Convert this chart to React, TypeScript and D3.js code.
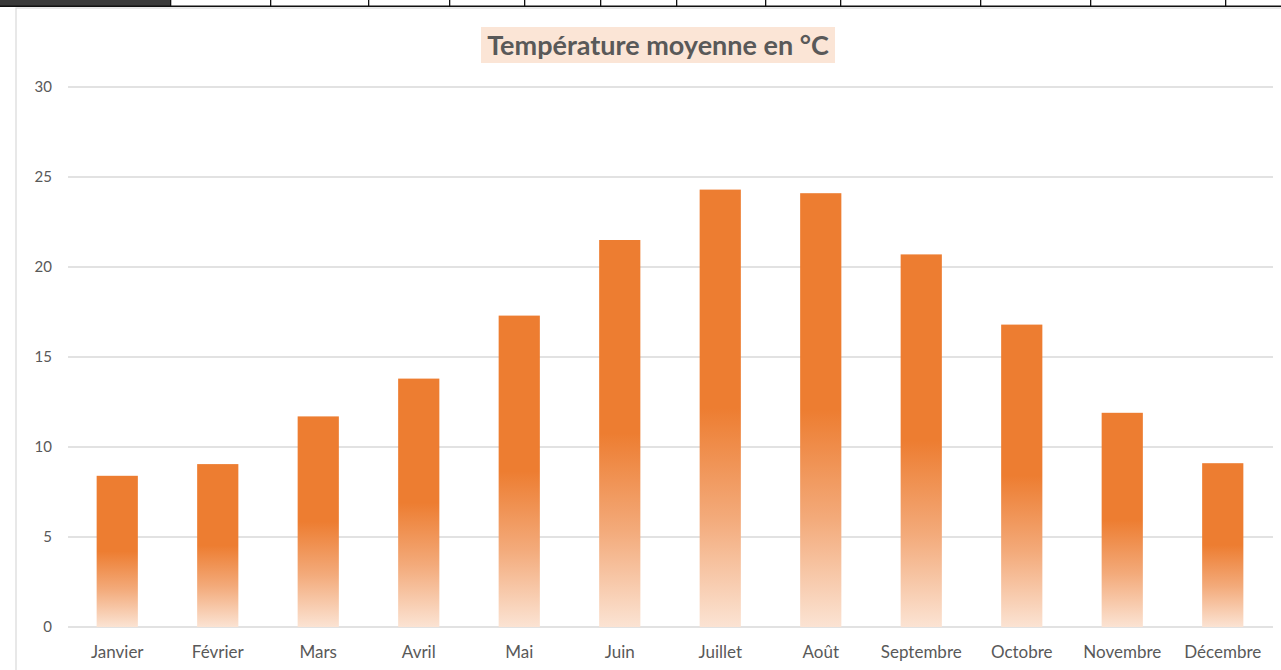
import React from "react";
import * as d3 from "d3";

const months = ["Janvier", "Février", "Mars", "Avril", "Mai", "Juin", "Juillet", "Août", "Septembre", "Octobre", "Novembre", "Décembre"];
const temps = [8.4, 9.05, 11.7, 13.8, 17.3, 21.5, 24.3, 24.1, 20.7, 16.8, 11.9, 9.1];
const yTicks = [0, 5, 10, 15, 20, 25, 30];
const title = "Température moyenne en °C";
const stripCols = [170, 270, 368, 449, 524, 600, 676, 765, 840, 980, 1090, 1225];

export default function App() {
  const W = 1281, H = 670;
  const x = d3.scaleBand<string>().domain(months).range([67, 1273]).paddingInner(0.59).paddingOuter(0.295);
  const y = d3.scaleLinear().domain([0, 30]).range([627, 87]);
  const font = "Lato, 'Open Sans', sans-serif";
  return (
    <svg width={W} height={H} style={{ position: "absolute", left: 0, top: 0, background: "#fff" }}>
      <defs>
        <linearGradient id="barGrad" x1="0" y1="0" x2="0" y2="1">
          <stop offset="0" stopColor="#ED7D31" />
          <stop offset="0.5" stopColor="#ED7D31" />
          <stop offset="0.75" stopColor="#F3AA7A" />
          <stop offset="1" stopColor="#FBE3D3" />
        </linearGradient>
      </defs>
      {/* spreadsheet strip */}
      <rect x={0} y={0} width={170} height={6} fill="#3a3a3a" />
      <rect x={0} y={5.5} width={W} height={1.5} fill="#111" />
      {stripCols.map((c) => (
        <rect key={c} x={c} y={0} width={1.3} height={6} fill="#111" />
      ))}
      {/* chart area border */}
      <rect x={16} y={8} width={W} height={H} fill="none" stroke="#d9d9d9" strokeWidth={1.2} />
      {/* title */}
      <rect x={481} y={27} width={354} height={36} fill="#FBE5D6" />
      <text x={658} y={55} textAnchor="middle" fontFamily={font} fontWeight="bold" fontSize={27} fill="#595959">{title}</text>
      {/* gridlines */}
      {yTicks.map((t) => (
        <g key={t}>
          <line x1={68} x2={1273} y1={y(t)} y2={y(t)} stroke="#d9d9d9" strokeWidth={1.3} />
          <text x={52} y={y(t)} dy="0.35em" textAnchor="end" fontFamily={font} fontSize={15} fill="#595959">{t}</text>
        </g>
      ))}
      {/* bars */}
      {months.map((m, i) => (
        <rect key={m} x={x(m)} y={y(temps[i])} width={x.bandwidth()} height={y(0) - y(temps[i])} fill="url(#barGrad)" />
      ))}
      {/* x labels */}
      {months.map((m) => (
        <text key={m} x={(x(m) || 0) + x.bandwidth() / 2} y={652} dy="0.35em" textAnchor="middle" fontFamily={font} fontSize={17} fill="#595959">{m}</text>
      ))}
    </svg>
  );
}
